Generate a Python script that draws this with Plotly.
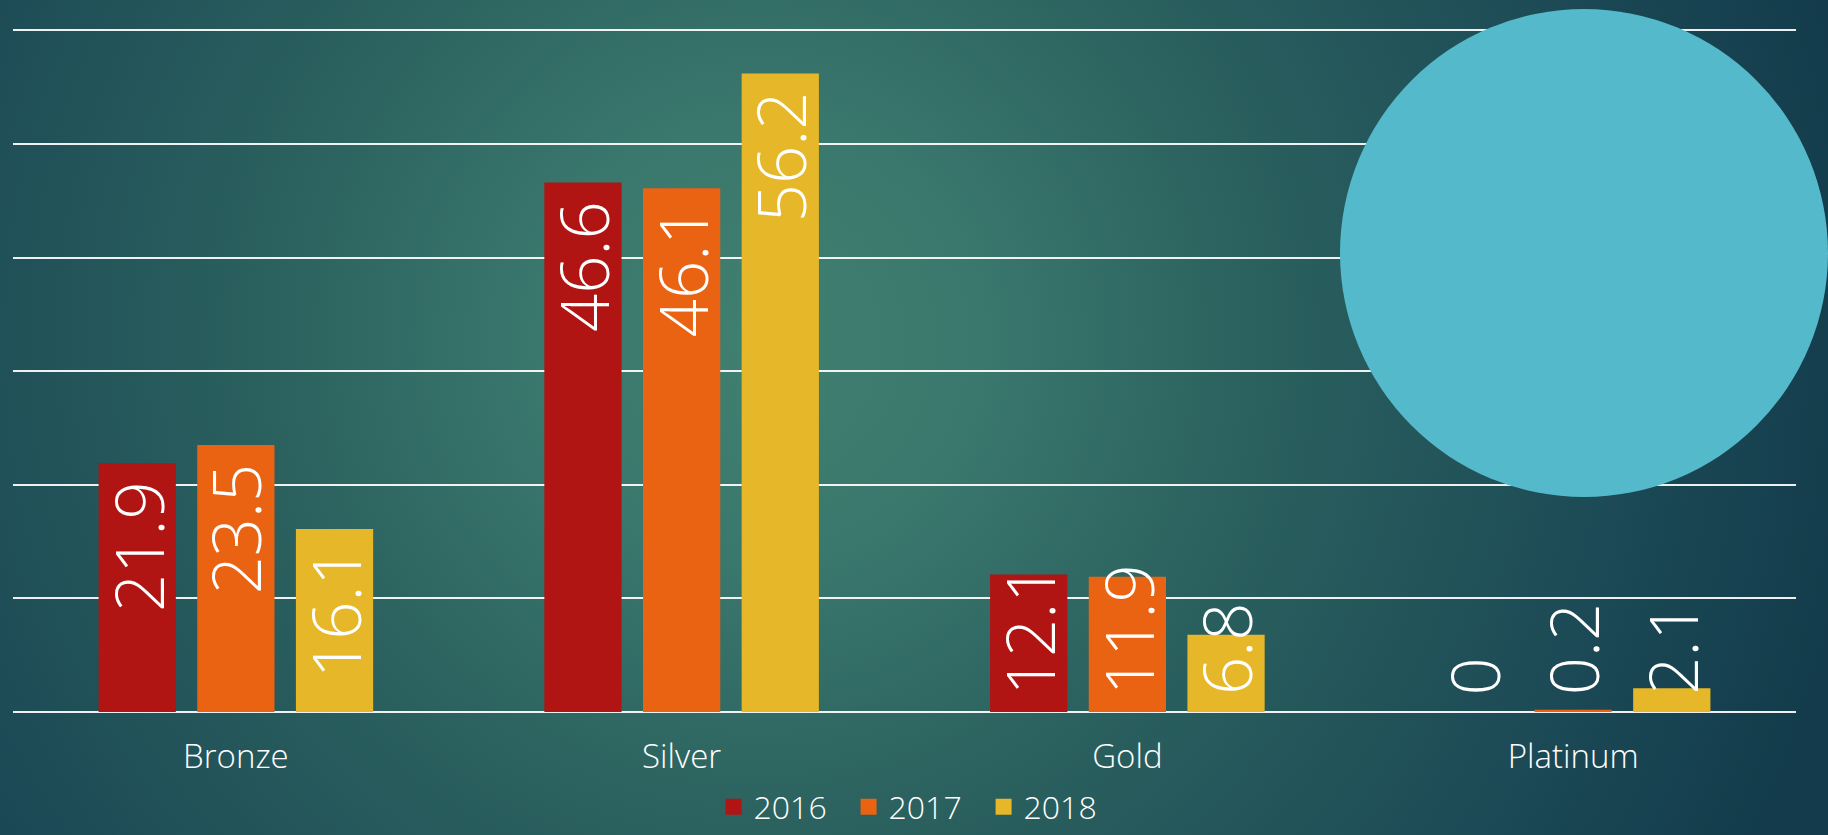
import base64
import plotly.graph_objects as go

categories = ["Bronze", "Silver", "Gold", "Platinum"]
years = ["2016", "2017", "2018"]
values_2016 = [21.9, 46.6, 12.1, 0]
values_2017 = [23.5, 46.1, 11.9, 0.2]
values_2018 = [16.1, 56.2, 6.8, 2.1]
series = [values_2016, values_2017, values_2018]
colors = ["#B01513", "#EA6312", "#E6B729"]

W, H = 1828, 835
YMAX = 60
YTOP = 60.2
px_per_unit = 681.5 / YMAX
ML, MR, MB = 13, 32, 123
MT = int(round(30 - (YTOP - YMAX) * px_per_unit))
PW, PH = W - ML - MR, H - MT - MB
cat_w = PW / len(categories)
BARGAP = 0.336
slot = cat_w * (1 - BARGAP) / len(years)

LABEL_SIZE = 67
PAD_TOP = 17
PAD_BOTTOM = 16


def est_len(txt):
    return sum(0.27 if c == "." else 0.57 for c in txt) * LABEL_SIZE


fig = go.Figure()
for yr, vals, col in zip(years, series, colors):
    fig.add_trace(go.Bar(
        x=categories, y=vals, name=yr, marker_color=col,
        marker_line_width=0, showlegend=False, offsetgroup=yr,
    ))
for yr, col in zip(years, colors):
    fig.add_trace(go.Scatter(
        x=[None], y=[None], mode="markers", name=yr,
        marker=dict(symbol="square", size=18, color=col),
    ))

annotations = []
for i, vals in enumerate(series):
    shift = (i - 1) * slot
    for cat, v in zip(categories, vals):
        txt = f"{v:g}"
        fits = v * px_per_unit - PAD_TOP - est_len(txt) >= PAD_BOTTOM
        annotations.append(dict(
            x=cat, xref="x", yref="y", xshift=shift,
            y=v if fits else 0,
            yanchor="top" if fits else "bottom",
            yshift=-PAD_TOP if fits else PAD_BOTTOM,
            text=txt, textangle=-90, showarrow=False, borderpad=0,
            font=dict(family="Open Sans", size=LABEL_SIZE, color="white", weight=300),
        ))

svg = (
    f'<svg xmlns="http://www.w3.org/2000/svg" width="{W}" height="{H}" viewBox="0 0 {W} {H}">'
    '<defs><radialGradient id="g" gradientUnits="userSpaceOnUse" cx="760" cy="340" r="1120">'
    '<stop offset="0" stop-color="#40806F"/>'
    '<stop offset="0.2" stop-color="#3A776D"/>'
    '<stop offset="0.45" stop-color="#2A605E"/>'
    '<stop offset="0.8" stop-color="#1B4855"/>'
    '<stop offset="1" stop-color="#133B4B"/>'
    '</radialGradient></defs>'
    f'<rect width="{W}" height="{H}" fill="url(#g)"/></svg>'
)
src = "data:image/svg+xml;base64," + base64.b64encode(svg.encode()).decode()

fig.update_layout(
    width=W, height=H,
    margin=dict(l=ML, r=MR, t=MT, b=MB, pad=0, autoexpand=False),
    paper_bgcolor="#1F4F57", plot_bgcolor="rgba(0,0,0,0)",
    barmode="group", bargap=BARGAP, bargroupgap=0.217,
    font=dict(family="Open Sans", color="white"),
    showlegend=True,
    legend=dict(
        orientation="h", x=0.5065, xanchor="center",
        yref="container", y=28 / H, yanchor="middle",
        font=dict(family="Open Sans", size=32, color="white", weight=300),
        bgcolor="rgba(0,0,0,0)", itemsizing="trace",
        entrywidth=90, entrywidthmode="pixels",
    ),
    annotations=annotations,
    images=[dict(
        source=src, xref="paper", yref="paper",
        x=-ML / PW, y=1 + MT / PH, sizex=W / PW, sizey=H / PH,
        xanchor="left", yanchor="top", sizing="stretch", layer="below",
    )],
    shapes=[dict(
        type="circle", xref="paper", yref="paper", layer="above",
        x0=(1340 - ML) / PW, x1=(1828 - ML) / PW,
        y0=(H - MB - 497) / PH, y1=(H - MB - 9) / PH,
        fillcolor="#54B9CB", line=dict(width=0),
    )],
)
fig.update_xaxes(
    showgrid=False, showline=False, zeroline=False, ticks="",
    ticklabelstandoff=22,
    tickfont=dict(family="Open Sans", size=33, color="white", weight=300),
)
fig.update_yaxes(
    range=[0, YTOP], dtick=10, showticklabels=False, ticks="",
    showgrid=True, gridcolor="rgba(255,255,255,0.92)", gridwidth=1.5,
    zeroline=True, zerolinecolor="rgba(255,255,255,0.92)", zerolinewidth=1.5,
)

fig.write_html(
    "out.html",
    config={"displayModeBar": False},
    post_script="document.body.style.margin='0';document.body.style.overflow='hidden';",
)
